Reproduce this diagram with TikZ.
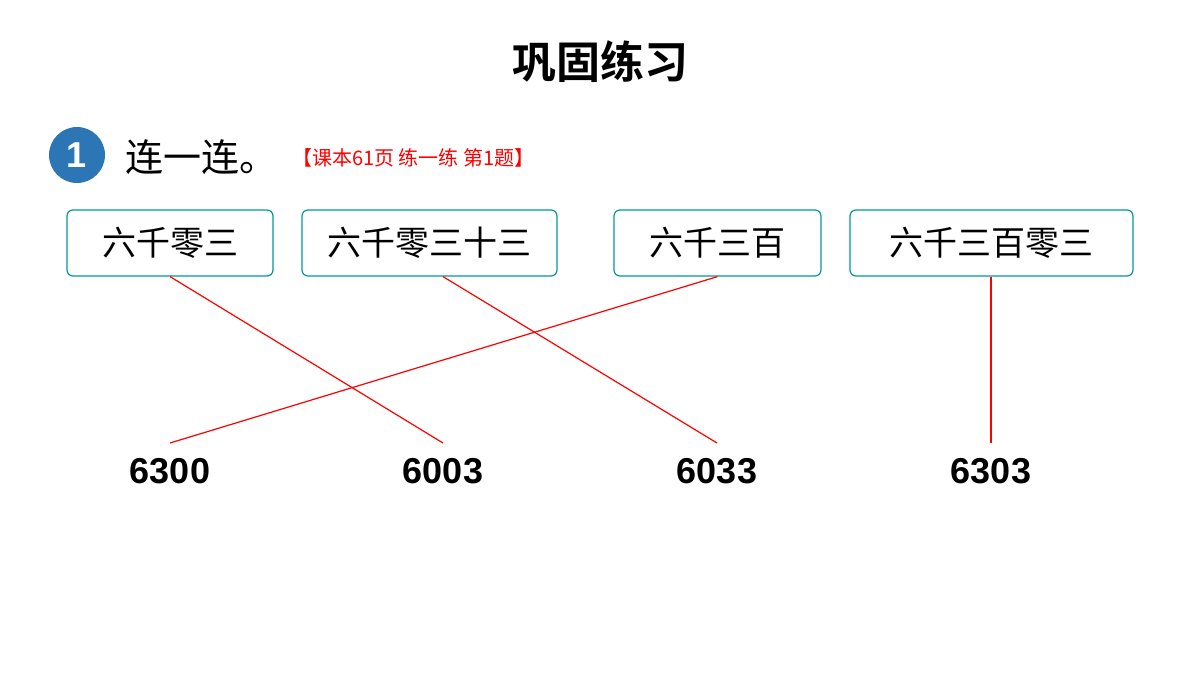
\documentclass[tikz,border=0pt]{standalone}
\usepackage{fontspec}
\setmainfont{Liberation Sans}
\newfontfamily\cjk{Noto Sans CJK SC}
\newfontfamily\cjkb{Noto Sans CJK SC Bold}
\begin{document}
\begin{tikzpicture}[x=1pt,y=-1pt,
  bx/.style={draw=teal!80!cyan,line width=1.2pt,rounded corners=6pt,inner sep=0pt,font=\cjk\fontsize{34}{34}\selectfont},
  num/.style={font=\bfseries\fontsize{36}{36}\selectfont,inner sep=0pt},
  ln/.style={red,line width=1.2pt}]
\useasboundingbox (0,0) rectangle (1200,675);
\node (title) at (600,62) {\cjkb\fontsize{44}{44}\selectfont 巩固练习};
\node[circle,fill=cyan!60!blue!85!black,minimum size=56pt,inner sep=0pt,text=white,font=\bfseries\fontsize{36}{36}\selectfont] (one) at (77,155) {1};
\node[anchor=west,inner sep=0pt] (lian) at (125,157) {\cjk\fontsize{38}{38}\selectfont 连一连。};
\node[anchor=west,inner sep=0pt,text=red] (ref) at (292,158) {\cjk\fontsize{20}{20}\selectfont 【课本61页 练一练 第1题】};
\node[bx,minimum width=206pt,minimum height=66pt] (b1) at (170,243) {六千零三};
\node[bx,minimum width=255pt,minimum height=66pt] (b2) at (429.5,243) {六千零三十三};
\node[bx,minimum width=207pt,minimum height=66pt] (b3) at (717.5,243) {六千三百};
\node[bx,minimum width=283pt,minimum height=66pt] (b4) at (991.5,243) {六千三百零三};
\node[num] (n1) at (170,471) {6300};
\node[num] (n2) at (443,471) {6003};
\node[num] (n3) at (717,471) {6033};
\node[num] (n4) at (991,471) {6303};
\coordinate (t1) at (170,443); \coordinate (t2) at (443,443);
\coordinate (t3) at (717,443); \coordinate (t4) at (991,443);
\draw[ln] (b1.south) -- (t2);
\draw[ln] (b2.south -| t2) -- (t3);
\draw[ln] (b3.south) -- (t1);
\draw[ln] (b4.south -| t4) -- (t4);
\end{tikzpicture}
\end{document}
